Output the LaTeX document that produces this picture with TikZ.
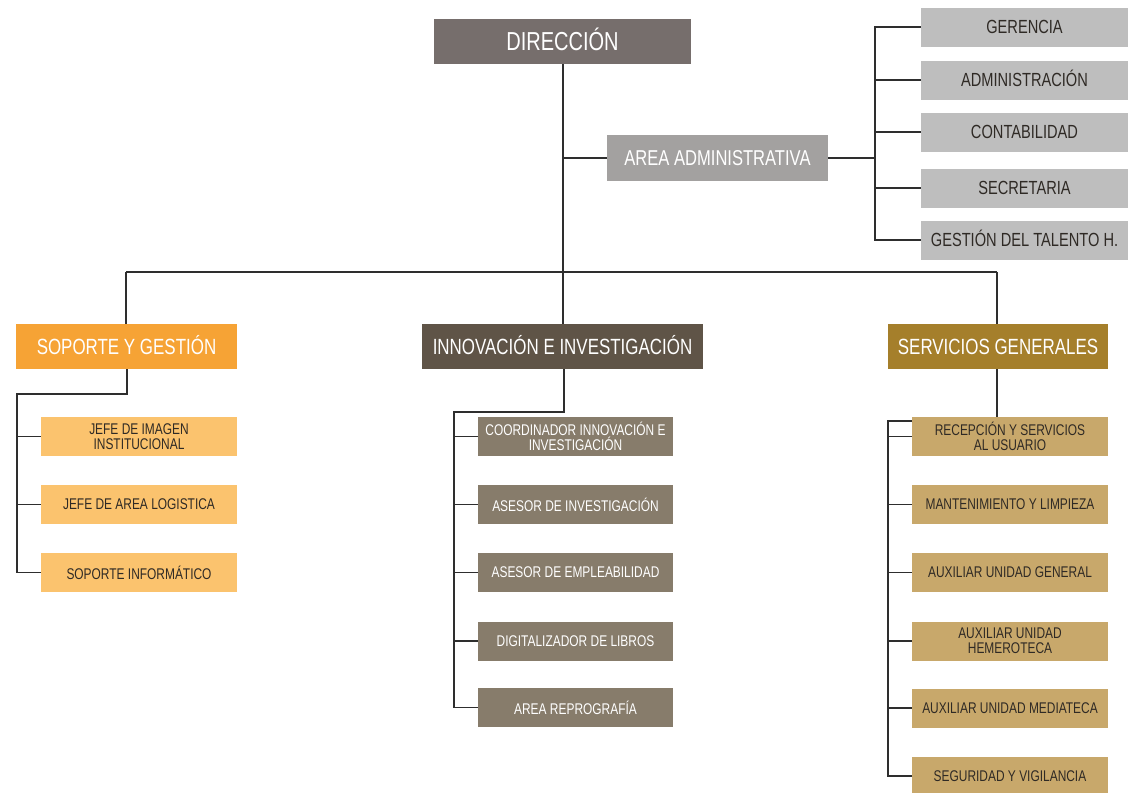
\documentclass[tikz,border=0pt]{standalone}
\usepackage{fontspec}
\setmainfont{Liberation Sans}[FakeStretch=0.77]
\definecolor{cDir}{HTML}{766E6C}
\definecolor{cAdm}{HTML}{A3A1A0}
\definecolor{cAdmC}{HTML}{BEBEBE}
\definecolor{cSop}{HTML}{F6A335}
\definecolor{cSopC}{HTML}{FBC36E}
\definecolor{cInn}{HTML}{5F5447}
\definecolor{cInnC}{HTML}{877C6B}
\definecolor{cSer}{HTML}{A57F2B}
\definecolor{cSerC}{HTML}{C8A86B}
\definecolor{cLine}{HTML}{2E2E2E}
\definecolor{cDark}{HTML}{2F2A25}
\tikzset{
  box/.style={inner sep=0pt, align=center, anchor=center},
  topbox/.style={box, fill=cDir, text=white, minimum width=257pt, minimum height=45pt, text height=18.6pt, text depth=0pt, font=\fontsize{26}{26}\selectfont},
  admbox/.style={box, fill=cAdm, text=white, minimum width=221pt, minimum height=46pt, text height=15.4pt, text depth=0pt, font=\fontsize{21.5}{21.5}\selectfont},
  admchild/.style={box, fill=cAdmC, text=cDark, minimum width=207pt, minimum height=39pt, text height=13.6pt, text depth=0pt, font=\fontsize{19}{19}\selectfont},
  headbox/.style={box, text=white, minimum height=45pt, text height=15.8pt, text depth=0pt, font=\fontsize{22}{22}\selectfont},
  childbox/.style={box, minimum width=196pt, minimum height=39pt, font=\fontsize{15.5}{15}\selectfont},
  conn/.style={draw=cLine, line width=1.2pt},
}
\begin{document}
\begin{tikzpicture}[x=1pt,y=-1pt]
\useasboundingbox[fill=white] (0,0) rectangle (1128,793);
% top
\node[topbox] (dir) at (562.5,41.5) {DIRECCIÓN};
\node[admbox] (adm) at (717.5,158) {AREA ADMINISTRATIVA};
\node[admchild] (ger) at (1024.5,27) {GERENCIA};
\node[admchild] (adn) at (1024.5,80) {ADMINISTRACIÓN};
\node[admchild] (con) at (1024.5,132) {CONTABILIDAD};
\node[admchild] (sec) at (1024.5,188) {SECRETARIA};
\node[admchild] (ges) at (1024.5,240) {GESTIÓN DEL TALENTO H.};
% heads
\node[headbox, fill=cSop, minimum width=221pt] (sop) at (126.5,346.5) {SOPORTE Y GESTIÓN};
\node[headbox, fill=cInn, minimum width=281pt] (inn) at (562.5,346.5) {INNOVACIÓN E INVESTIGACIÓN};
\node[headbox, fill=cSer, minimum width=220pt] (ser) at (998,346.5) {SERVICIOS GENERALES};
% soporte children
\node[childbox, fill=cSopC, text=cDark] (s1) at (139,436.5) {JEFE DE IMAGEN\\INSTITUCIONAL};
\node[childbox, fill=cSopC, text=cDark] (s2) at (139,504.5) {JEFE DE AREA LOGISTICA};
\node[childbox, fill=cSopC, text=cDark] (s3) at (139,572.5) {SOPORTE INFORMÁTICO};
% innovacion children
\node[childbox, fill=cInnC, text=white, minimum width=195pt] (i1) at (575.5,436.5) {COORDINADOR INNOVACIÓN E\\INVESTIGACIÓN};
\node[childbox, fill=cInnC, text=white, minimum width=195pt] (i2) at (575.5,504.5) {ASESOR DE INVESTIGACIÓN};
\node[childbox, fill=cInnC, text=white, minimum width=195pt] (i3) at (575.5,572.5) {ASESOR DE EMPLEABILIDAD};
\node[childbox, fill=cInnC, text=white, minimum width=195pt] (i4) at (575.5,641) {DIGITALIZADOR DE LIBROS};
\node[childbox, fill=cInnC, text=white, minimum width=195pt] (i5) at (575.5,707.5) {AREA REPROGRAFÍA};
% servicios children
\node[childbox, fill=cSerC, text=cDark] (g1) at (1010,436.5) {RECEPCIÓN Y SERVICIOS\\AL USUARIO};
\node[childbox, fill=cSerC, text=cDark] (g2) at (1010,504.5) {MANTENIMIENTO Y LIMPIEZA};
\node[childbox, fill=cSerC, text=cDark] (g3) at (1010,572.5) {AUXILIAR UNIDAD GENERAL};
\node[childbox, fill=cSerC, text=cDark] (g4) at (1010,641) {AUXILIAR UNIDAD\\HEMEROTECA};
\node[childbox, fill=cSerC, text=cDark] (g5) at (1010,708) {AUXILIAR UNIDAD MEDIATECA};
\node[childbox, fill=cSerC, text=cDark] (g6) at (1010,776) {SEGURIDAD Y VIGILANCIA};
% coordinates
\coordinate (trunk) at (563,272);
\coordinate (admj) at (563,158);
\coordinate (hl) at (126,272);
\coordinate (hr) at (997,272);
\coordinate (rb) at (875,158);
% connectors top
\draw[conn] (dir.south -| trunk) -- (trunk);
\draw[conn] (admj) -- (adm.west);
\draw[conn] (hl) -- (hr);
\draw[conn] (hl) -- (hl |- sop.north);
\draw[conn] (trunk) -- (trunk |- inn.north);
\draw[conn] (hr) -- (hr |- ser.north);
\draw[conn] (adm.east) -- (rb);
\draw[conn] (ger.west) -- (ger.west -| rb) -- (ges.west -| rb) -- (ges.west);
\foreach \n in {adn,con,sec} \draw[conn] (\n.west -| rb) -- (\n.west);
% soporte
\coordinate (sa) at (127,394);
\coordinate (sb) at (17,394);
\draw[conn] (sop.south -| sa) -- (sa) -- (sb) -- (sb |- s3.west) -- (s3.west);
\foreach \n in {s1,s2} \draw[conn] (\n.west -| sb) -- (\n.west);
% innovacion
\coordinate (ia) at (564,412);
\coordinate (ib) at (454,412);
\draw[conn] (inn.south -| ia) -- (ia) -- (ib) -- (ib |- i5.west) -- (i5.west);
\foreach \n in {i1,i2,i3,i4} \draw[conn] (\n.west -| ib) -- (\n.west);
% servicios
\coordinate (ga) at (888,421);
\draw[conn] (ser.south -| hr) -- (g1.north -| hr);
\draw[conn] (g1.west |- ga) -- (ga) -- (ga |- g6.west) -- (g6.west);
\foreach \n in {g1,g2,g3,g4,g5} \draw[conn] (\n.west -| ga) -- (\n.west);
\end{tikzpicture}
\end{document}
